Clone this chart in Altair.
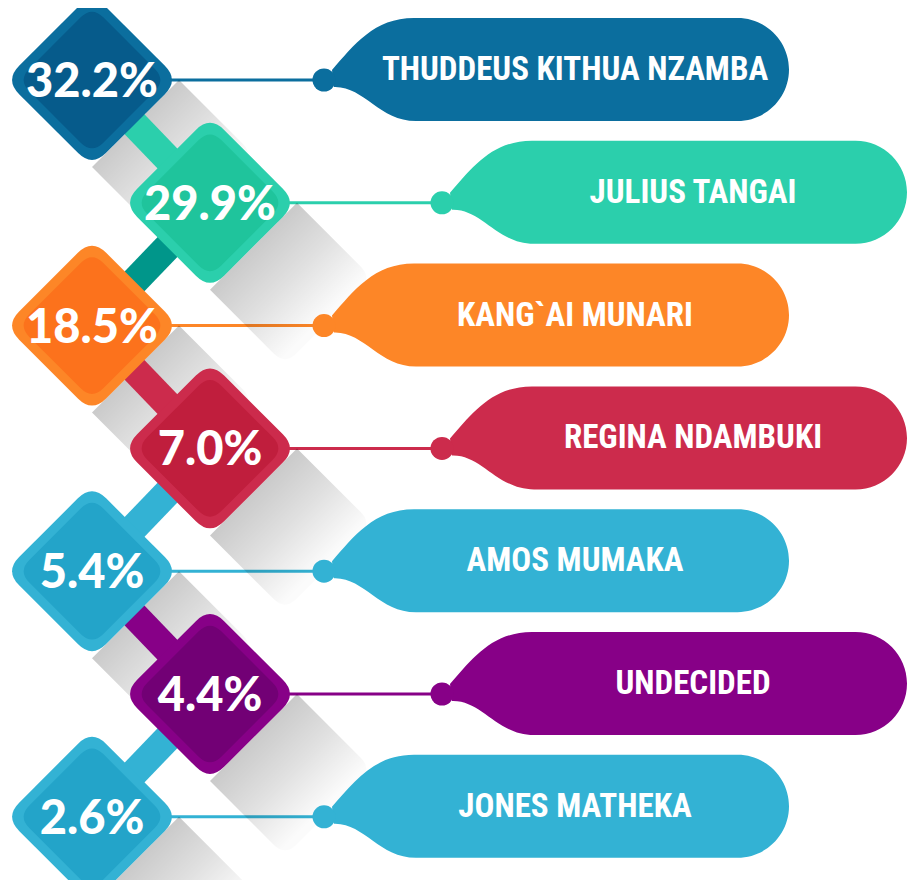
import math
import pandas as pd
import altair as alt

# ---------------- data ----------------
names = ["THUDDEUS KITHUA NZAMBA", "JULIUS TANGAI", "KANG`AI MUNARI",
         "REGINA NDAMBUKI", "AMOS MUMAKA", "UNDECIDED", "JONES MATHEKA"]
shares = [32.2, 29.9, 18.5, 7.0, 5.4, 4.4, 2.6]

outer_colors = ["#0b6e9e", "#2bcfac", "#fd8627", "#cc2b4c", "#33b2d4", "#870087", "#33b2d4"]
inner_colors = ["#065b8b", "#1fc49c", "#fc721c", "#c01e3d", "#23a4c9", "#720075", "#23a4c9"]
bubble_colors = ["#0b6e9e", "#2bcfac", "#fd8627", "#cc2b4c", "#33b2d4", "#870087", "#33b2d4"]
link_colors = ["#2bcfac", "#00968a", "#cc2b4c", "#33b2d4", "#870087", "#33b2d4"]

# ---------------- layout ----------------
LEFT_X, RIGHT_X = 92, 210
TOP_Y, STEP = 80, 122.8
DOT_DX, TEXT_DX = 232, 251

n = len(names)
df = pd.DataFrame({
    "i": list(range(n)),
    "name": names,
    "share": shares,
    "outer": outer_colors,
    "inner": inner_colors,
    "bubble": bubble_colors,
})
df["label"] = [f"{v:.1f}%" for v in shares]
df["cx"] = [LEFT_X if i % 2 == 0 else RIGHT_X for i in range(n)]
df["cy"] = [TOP_Y + STEP * i for i in range(n)]
df["dotx"] = df["cx"] + DOT_DX
df["textx"] = df["dotx"] + TEXT_DX

links = pd.DataFrame({
    "x": df["cx"].values[:-1], "y": df["cy"].values[:-1],
    "x2": df["cx"].values[1:], "y2": df["cy"].values[1:],
    "c": link_colors,
})

# ---------------- shapes (custom symbol paths) ----------------
K = 1000.0
SIZE = (2 * K) ** 2


def f(v):
    return f"{v / K:.5f}"


def rounded_poly(verts, radii):
    m = len(verts)
    out = []
    for k in range(m):
        V, P, N = verts[k], verts[k - 1], verts[(k + 1) % m]
        r = radii[k]
        lp = math.hypot(P[0] - V[0], P[1] - V[1])
        ln = math.hypot(N[0] - V[0], N[1] - V[1])
        a = (V[0] + (P[0] - V[0]) * r / lp, V[1] + (P[1] - V[1]) * r / lp)
        b = (V[0] + (N[0] - V[0]) * r / ln, V[1] + (N[1] - V[1]) * r / ln)
        out.append(("L" if k else "M") + f"{f(a[0])} {f(a[1])} Q{f(V[0])} {f(V[1])} {f(b[0])} {f(b[1])} ")
    return "".join(out) + "Z"


def rounded_diamond(D, r):
    return rounded_poly([(0, -D), (D, 0), (0, D), (-D, 0)], [r] * 4)


D_OUT, D_IN = 87, 74
outer_path = rounded_diamond(D_OUT, 20)
inner_path = rounded_diamond(D_IN, 16)

L = 75
shadow_path = rounded_poly([(D_OUT, 0), (0, D_OUT), (L, D_OUT + L), (D_OUT + L, L)],
                           [0.01, 0.01, 16, 16])

T, B, XR = -62, 41, 465
C = (T + B) / 2
RR = (B - T) / 2
XS = XR - RR
k = 0.5523 * RR
bubble_path = (
    f"M{f(8)} {f(-10)} C{f(30)} {f(-35)} {f(50)} {f(T)} {f(90)} {f(T)} "
    f"L{f(XS)} {f(T)} "
    f"C{f(XS + k)} {f(T)} {f(XR)} {f(C - k)} {f(XR)} {f(C)} "
    f"C{f(XR)} {f(C + k)} {f(XS + k)} {f(B)} {f(XS)} {f(B)} "
    f"L{f(92)} {f(B)} C{f(55)} {f(B)} {f(40)} {f(6)} {f(10)} {f(7)} Z"
)

# ---------------- scales ----------------
xs = alt.Scale(domain=[8, 908], nice=False, zero=False)
ys = alt.Scale(domain=[8, 880], nice=False, zero=False, reverse=True)

base = alt.Chart(df)

shadow_grad = alt.Gradient(
    gradient="linear",
    stops=[alt.GradientStop(offset=0.27, color="rgba(0,0,0,0.21)"),
           alt.GradientStop(offset=0.5, color="rgba(0,0,0,0.12)"),
           alt.GradientStop(offset=0.73, color="rgba(0,0,0,0.015)")],
    x1=0, y1=0, x2=1, y2=1,
)

shadows = base.mark_point(shape=shadow_path, size=SIZE, filled=True, opacity=1,
                          fill=shadow_grad, strokeWidth=0).encode(
    x=alt.X("cx:Q", scale=xs, axis=None),
    y=alt.Y("cy:Q", scale=ys, axis=None),
)

connectors = alt.Chart(links).mark_rule(strokeWidth=28, strokeCap="butt").encode(
    x=alt.X("x:Q", scale=xs, axis=None),
    y=alt.Y("y:Q", scale=ys, axis=None),
    x2="x2:Q", y2="y2:Q",
    color=alt.Color("c:N", scale=None),
)

hlines = base.mark_rule(strokeWidth=3).encode(
    x=alt.X("cx:Q", scale=xs, axis=None),
    x2="dotx:Q",
    y=alt.Y("cy:Q", scale=ys, axis=None),
    color=alt.Color("bubble:N", scale=None),
)

outer = base.mark_point(shape=outer_path, size=SIZE, filled=True, opacity=1, strokeWidth=0).encode(
    x=alt.X("cx:Q", scale=xs, axis=None),
    y=alt.Y("cy:Q", scale=ys, axis=None),
    color=alt.Color("outer:N", scale=None),
)

inner = base.mark_point(shape=inner_path, size=SIZE, filled=True, opacity=1, strokeWidth=0).encode(
    x=alt.X("cx:Q", scale=xs, axis=None),
    y=alt.Y("cy:Q", scale=ys, axis=None),
    color=alt.Color("inner:N", scale=None),
)

bubbles = base.mark_point(shape=bubble_path, size=SIZE, filled=True, opacity=1, strokeWidth=0).encode(
    x=alt.X("dotx:Q", scale=xs, axis=None),
    y=alt.Y("cy:Q", scale=ys, axis=None),
    color=alt.Color("bubble:N", scale=None),
)

dots = base.mark_circle(size=math.pi * 13 ** 2, opacity=1).encode(
    x=alt.X("dotx:Q", scale=xs, axis=None),
    y=alt.Y("cy:Q", scale=ys, axis=None),
    color=alt.Color("bubble:N", scale=None),
)

pct_text = base.mark_text(font="Lato, Liberation Sans, Arial, sans-serif", fontWeight=900,
                          fontSize=47, color="white", align="center",
                          baseline="alphabetic", dy=17).encode(
    x=alt.X("cx:Q", scale=xs, axis=None),
    y=alt.Y("cy:Q", scale=ys, axis=None),
    text="label:N",
)

name_text = base.mark_text(font='"Roboto Condensed", "Liberation Sans Narrow", "DejaVu Sans Condensed", sans-serif',
                           fontWeight="bold", fontSize=33, color="white", align="center",
                           baseline="alphabetic", dy=0).encode(
    x=alt.X("textx:Q", scale=xs, axis=None),
    y=alt.Y("cy:Q", scale=ys, axis=None),
    text="name:N",
)

chart = alt.layer(
    hlines, shadows, connectors, outer, inner, bubbles, dots, pct_text, name_text
).properties(
    width=900, height=872, padding=0, autosize=alt.AutoSizeParams(type="none"),
    background="white",
).configure_view(stroke=None)

chart.save("out.html", embed_options={"renderer": "svg", "actions": False})
